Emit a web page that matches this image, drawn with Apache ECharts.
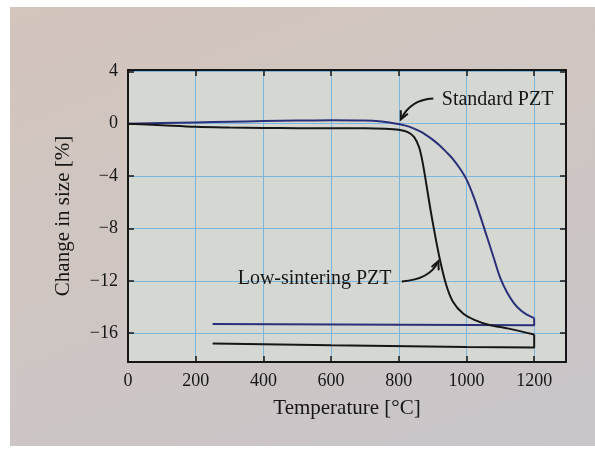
<!DOCTYPE html>
<html>
<head>
<meta charset="utf-8">
<script src="https://cdn.jsdelivr.net/npm/echarts@6/dist/echarts.min.js"></script>
<style>
html,body{margin:0;padding:0;background:#fff;}
#wrap{position:relative;width:595px;height:450px;overflow:hidden;background:#fff;}
#page{position:absolute;left:10px;top:7px;width:585px;height:439px;background:linear-gradient(160deg,#d3c4bc 0%,#cfc6c2 45%,#c9c5ca 100%);}
#chart{position:absolute;left:0;top:0;width:595px;height:450px;}
</style>
</head>
<body>
<div id="wrap"><div id="page"></div><div id="chart"></div></div>
<script>
// ---- data ----
const xTicks = [0, 200, 400, 600, 800, 1000, 1200];
const yTicks = [4, 0, -4, -8, -12, -16];

// Standard PZT: heating curve
const stdHeatT = [0, 100, 200, 300, 400, 500, 600, 700, 750, 800, 820, 840, 860, 880, 900, 920, 940, 960, 980, 1000, 1020, 1040, 1060, 1080, 1100, 1120, 1140, 1160, 1180, 1200];
const stdHeatV = [0, 0.05, 0.1, 0.15, 0.2, 0.24, 0.27, 0.25, 0.16, -0.03, -0.15, -0.32, -0.55, -0.85, -1.22, -1.65, -2.15, -2.7, -3.4, -4.25, -5.5, -7.0, -8.6, -10.2, -11.8, -12.9, -13.7, -14.25, -14.6, -14.85];
// Standard PZT: hold + cooling
const stdCoolT = [1200, 1200, 250];
const stdCoolV = [-14.85, -15.4, -15.3];

// Low-sintering PZT: heating curve
const lowHeatT = [0, 100, 200, 300, 400, 500, 600, 700, 760, 800, 825, 845, 860, 870, 880, 890, 900, 920, 940, 960, 990, 1025, 1065, 1125, 1200];
const lowHeatV = [0, -0.12, -0.24, -0.29, -0.32, -0.34, -0.35, -0.35, -0.38, -0.46, -0.62, -1.0, -1.8, -2.9, -4.4, -6.0, -7.5, -10.2, -12.3, -13.6, -14.5, -15.0, -15.35, -15.65, -16.1];
// Low-sintering PZT: hold + cooling
const lowCoolT = [1200, 1200, 1000, 600, 250];
const lowCoolV = [-16.1, -17.1, -17.05, -16.92, -16.78];

const xName = 'Temperature [°C]';
const yName = 'Change in size [%]';
const labelStd = 'Standard PZT';
const labelLow = 'Low-sintering PZT';

// ---- chart ----
const FONT = 'Liberation Serif';
const BLUE = '#2b2f78';
const BLACK = '#161616';
const GRIDC = '#7db6dc';
const pairs = (t, v) => t.map((x, i) => [x, v[i]]);
const fmtY = v => (v < 0 ? '\u2212' + Math.abs(v) : String(v));
const fmtX = v => String(v);

const chart = echarts.init(document.getElementById('chart'), null, {renderer: 'canvas'});

const tick = vals => ({show: true, inside: true, length: 6, lineStyle: {color: BLACK, width: 1.5}, customValues: vals});
const line = {show: true, onZero: false, lineStyle: {color: BLACK, width: 2}};

const option = {
  backgroundColor: 'transparent',
  animation: false,
  grid: {left: 128, top: 70, width: 438, height: 292, show: true, backgroundColor: '#d5d8d2', borderWidth: 0},
  xAxis: [
    {
      type: 'value', min: 0, max: 1294, interval: 200, position: 'bottom',
      name: xName, nameLocation: 'middle', nameGap: 36,
      nameTextStyle: {fontFamily: FONT, fontSize: 21, color: BLACK},
      axisLine: line,
      axisLabel: {fontFamily: FONT, fontSize: 18, color: BLACK, margin: 10, customValues: xTicks, formatter: fmtX},
      axisTick: tick(xTicks),
      splitLine: {show: true, lineStyle: {color: GRIDC, width: 1}}
    },
    {
      type: 'value', min: 0, max: 1294, interval: 200, position: 'top',
      axisLine: line,
      axisLabel: {show: false},
      axisTick: tick(xTicks),
      splitLine: {show: false}
    }
  ],
  yAxis: [
    {
      type: 'value', min: -18.2, max: 4.1, position: 'left',
      name: yName, nameLocation: 'middle', nameGap: 54, nameRotate: 90,
      nameTextStyle: {fontFamily: FONT, fontSize: 21, color: BLACK},
      axisLine: line,
      axisLabel: {fontFamily: FONT, fontSize: 18, color: BLACK, margin: 10, customValues: yTicks, formatter: fmtY},
      axisTick: tick(yTicks),
      splitLine: {show: true, lineStyle: {color: GRIDC, width: 1}}
    },
    {
      type: 'value', min: -18.2, max: 4.1, position: 'right',
      axisLine: line,
      axisLabel: {show: false},
      axisTick: tick(yTicks),
      splitLine: {show: false}
    }
  ],
  series: [
    {type: 'line', name: labelStd, data: pairs(stdHeatT, stdHeatV), smooth: 0.4,
      showSymbol: false, lineStyle: {color: BLUE, width: 2}, z: 3},
    {type: 'line', name: labelStd + ' cooling', data: pairs(stdCoolT, stdCoolV), smooth: false,
      showSymbol: false, lineStyle: {color: BLUE, width: 2}, z: 3},
    {type: 'line', name: labelLow, data: pairs(lowHeatT, lowHeatV), smooth: 0.3,
      showSymbol: false, lineStyle: {color: BLACK, width: 2}, z: 4},
    {type: 'line', name: labelLow + ' cooling', data: pairs(lowCoolT, lowCoolV), smooth: false,
      showSymbol: false, lineStyle: {color: BLACK, width: 2}, z: 4}
  ]
};
chart.setOption(option);

// ---- annotations placed through the chart's own scales ----
function px(x, y) { return chart.convertToPixel({gridIndex: 0}, [x, y]); }
function arrow(start, ctrl, end) {
  const s = px(start[0], start[1]), c = px(ctrl[0], ctrl[1]), e = px(end[0], end[1]);
  const ang = Math.atan2(e[1] - c[1], e[0] - c[0]);
  const L = 9, a = 0.45;
  const p1 = [e[0] - L * Math.cos(ang - a), e[1] - L * Math.sin(ang - a)];
  const p2 = [e[0] - L * Math.cos(ang + a), e[1] - L * Math.sin(ang + a)];
  return [
    {type: 'bezierCurve', shape: {x1: s[0], y1: s[1], x2: e[0], y2: e[1], cpx1: c[0], cpy1: c[1]},
      style: {stroke: BLACK, lineWidth: 2, fill: null}, z: 10},
    {type: 'polyline', shape: {points: [p1, e, p2]}, style: {stroke: BLACK, lineWidth: 2, fill: null}, z: 10}
  ];
}
const tStd = px(927, 1.8), tLow = px(324, -11.87);
const graphics = [
  {type: 'text', x: tStd[0], y: tStd[1], style: {text: labelStd, fontFamily: FONT, fontSize: 20, fill: BLACK, verticalAlign: 'middle', align: 'left'}, z: 10},
  {type: 'text', x: tLow[0], y: tLow[1], style: {text: labelLow, fontFamily: FONT, fontSize: 20, fill: BLACK, verticalAlign: 'middle', align: 'left'}, z: 10}
].concat(arrow([902, 1.93], [834, 1.85], [806, 0.33]))
 .concat(arrow([809, -12.05], [893, -11.9], [917, -10.5]));
chart.setOption({graphic: graphics});
</script>
</body>
</html>
